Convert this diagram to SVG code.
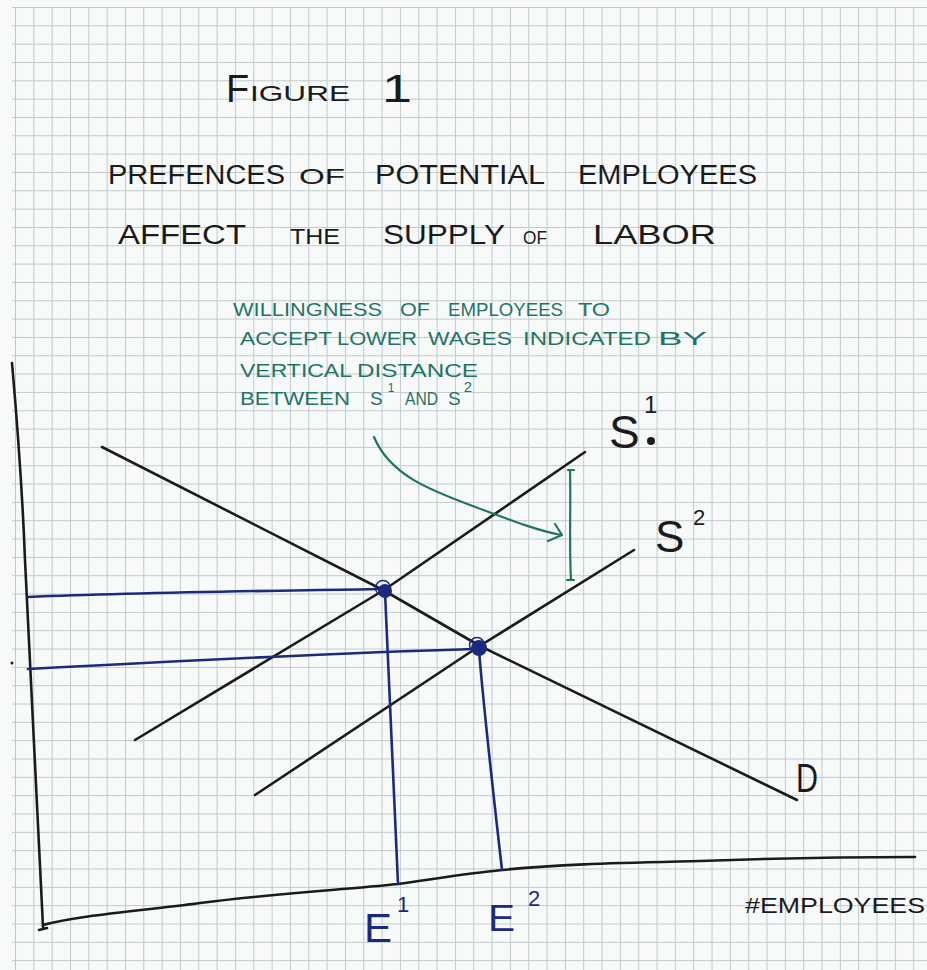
<svg xmlns="http://www.w3.org/2000/svg" width="927" height="970" viewBox="0 0 927 970">
<defs>
<pattern id="grid" patternUnits="userSpaceOnUse" x="15" y="7" width="18.33" height="18.33">
<path d="M0 0.5H18.33M0.5 0V18.33" stroke="#bfc8cc" stroke-width="1" fill="none"/>
</pattern>
<style>
.ink{fill:none;stroke:#1b1b1b;stroke-width:2.6;stroke-linecap:round;stroke-linejoin:round}
.blue{fill:none;stroke:#1c2a7e;stroke-width:2.6;stroke-linecap:round;stroke-linejoin:round}
.teal{fill:none;stroke:#1f7565;stroke-width:2.2;stroke-linecap:round;stroke-linejoin:round}
.t{font-family:"Liberation Sans","DejaVu Sans",sans-serif;fill:#1b1b1b}
.g{font-family:"Liberation Sans","DejaVu Sans",sans-serif;fill:#1f7565;font-size:19px}
.b{font-family:"Liberation Sans","DejaVu Sans",sans-serif;fill:#1c2a7e}
</style>
</defs>
<rect width="927" height="970" fill="#f8fafa"/>
<rect x="12" y="7" width="915" height="963" fill="url(#grid)"/>

<g id="title">
<text class="t" x="226" y="102" font-size="38">F</text>
<text class="t" x="250" y="101" font-size="22" textLength="100" lengthAdjust="spacingAndGlyphs">IGURE</text>
<text class="t" x="382" y="102" font-size="38" textLength="30" lengthAdjust="spacingAndGlyphs">1</text>
</g>

<g id="heading">
<text class="t" x="108" y="184" font-size="27" textLength="177" lengthAdjust="spacingAndGlyphs">PREFENCES</text>
<text class="t" x="299" y="184" font-size="22" textLength="46" lengthAdjust="spacingAndGlyphs">OF</text>
<text class="t" x="375" y="184" font-size="27" textLength="170" lengthAdjust="spacingAndGlyphs">POTENTIAL</text>
<text class="t" x="578" y="184" font-size="27" textLength="179" lengthAdjust="spacingAndGlyphs">EMPLOYEES</text>
<text class="t" x="118" y="244" font-size="27" textLength="128" lengthAdjust="spacingAndGlyphs">AFFECT</text>
<text class="t" x="290" y="244" font-size="22" textLength="50" lengthAdjust="spacingAndGlyphs">THE</text>
<text class="t" x="383" y="244" font-size="27" textLength="122" lengthAdjust="spacingAndGlyphs">SUPPLY</text>
<text class="t" x="523" y="244" font-size="18" textLength="24" lengthAdjust="spacingAndGlyphs">OF</text>
<text class="t" x="593" y="244" font-size="27" textLength="123" lengthAdjust="spacingAndGlyphs">LABOR</text>
</g>

<g id="note">
<text class="g" x="233" y="316" textLength="149" lengthAdjust="spacingAndGlyphs">WILLINGNESS</text>
<text class="g" x="400" y="316" textLength="30" lengthAdjust="spacingAndGlyphs">OF</text>
<text class="g" x="448" y="316" textLength="115" lengthAdjust="spacingAndGlyphs">EMPLOYEES</text>
<text class="g" x="578" y="316" textLength="32" lengthAdjust="spacingAndGlyphs">TO</text>
<text class="g" x="240" y="345" textLength="92" lengthAdjust="spacingAndGlyphs">ACCEPT</text>
<text class="g" x="337" y="345" textLength="80" lengthAdjust="spacingAndGlyphs">LOWER</text>
<text class="g" x="428" y="345" textLength="84" lengthAdjust="spacingAndGlyphs">WAGES</text>
<text class="g" x="523" y="345" textLength="128" lengthAdjust="spacingAndGlyphs">INDICATED</text>
<text class="g" x="658" y="345" textLength="49" lengthAdjust="spacingAndGlyphs">BY</text>
<text class="g" x="240" y="377" textLength="112" lengthAdjust="spacingAndGlyphs">VERTICAL</text>
<text class="g" x="357" y="377" textLength="121" lengthAdjust="spacingAndGlyphs">DISTANCE</text>
<text class="g" x="240" y="405" textLength="110" lengthAdjust="spacingAndGlyphs">BETWEEN</text>
<text class="g" x="370" y="405" font-size="23">S<tspan font-size="12" dx="5" dy="-13">1</tspan></text>
<text class="g" x="405" y="405" font-size="14" textLength="33" lengthAdjust="spacingAndGlyphs">AND</text>
<text class="g" x="448" y="405" font-size="23">S<tspan font-size="15" dx="3" dy="-13">2</tspan></text>
</g>

<g id="connectors">
<path id="y-axis" class="ink" d="M12 363 C17 420 22 480 25 560 C29 650 35 780 43 927 M39 930 L47 928"/>
<path id="x-axis" class="ink" d="M43 925 C80 915 140 911 200 903 C280 893 340 890 398 884 C440 878 470 873 502 870 C560 864 620 863 700 861 C780 858 850 857 915 857"/>
<path id="demand" class="ink" d="M102 447 L383 590 L480 646 L797 800"/>
<path id="supply1" class="ink" d="M135 740 L384 590 L585 452"/>
<path id="supply2" class="ink" d="M255 795 L478 647 L634 550"/>
<path class="blue" d="M28 597 C150 592 270 591 382 589"/>
<path class="blue" d="M28 669 C160 662 330 653 474 649"/>
<path class="blue" d="M385 592 C388 650 392 740 398 884"/>
<path class="blue" d="M479 650 C483 700 494 800 502 870"/>
<path class="teal" d="M374 437 C390 475 430 490 470 505 C505 518 535 530 561 535"/>
<path class="teal" d="M555 524 L562 535 L548 541"/>
<path class="teal" d="M568 470 L574 470 M570 470 C571 510 569 545 571 580 M567 580 L574 580" stroke-width="3"/>
</g>

<g id="E1-point">
<circle cx="385" cy="591" r="7" fill="#1c2a7e"/>
<circle cx="383" cy="588" r="7.5" fill="none" stroke="#1c2a7e" stroke-width="1.5"/>
</g>
<g id="E2-point">
<circle cx="479" cy="648" r="8" fill="#1c2a7e"/>
<circle cx="477" cy="645" r="7.5" fill="none" stroke="#1c2a7e" stroke-width="1.5"/>
</g>

<g id="label-S1">
<text class="t" x="609" y="448" font-size="46">S</text>
<text class="t" x="644" y="413" font-size="24">1</text>
<circle cx="651" cy="441" r="4" fill="#1b1b1b"/>
</g>
<g id="label-S2">
<text class="t" x="655" y="552" font-size="44">S</text>
<text class="t" x="693" y="525" font-size="22">2</text>
</g>
<g id="label-D">
<text class="t" x="796" y="792" font-size="40" textLength="22" lengthAdjust="spacingAndGlyphs">D</text>
</g>
<g id="label-E1">
<text class="b" x="364" y="942" font-size="40" textLength="28" lengthAdjust="spacingAndGlyphs">E</text>
<text class="b" x="397" y="912" font-size="22">1</text>
</g>
<g id="label-E2">
<text class="b" x="488" y="931" font-size="36" textLength="27" lengthAdjust="spacingAndGlyphs">E</text>
<text class="b" x="528" y="906" font-size="22">2</text>
</g>
<g id="label-employees">
<text class="t" x="745" y="913" font-size="22" textLength="180" lengthAdjust="spacingAndGlyphs">#EMPLOYEES</text>
</g>
<circle cx="12" cy="663" r="1.5" fill="#1b1b1b"/>
</svg>
